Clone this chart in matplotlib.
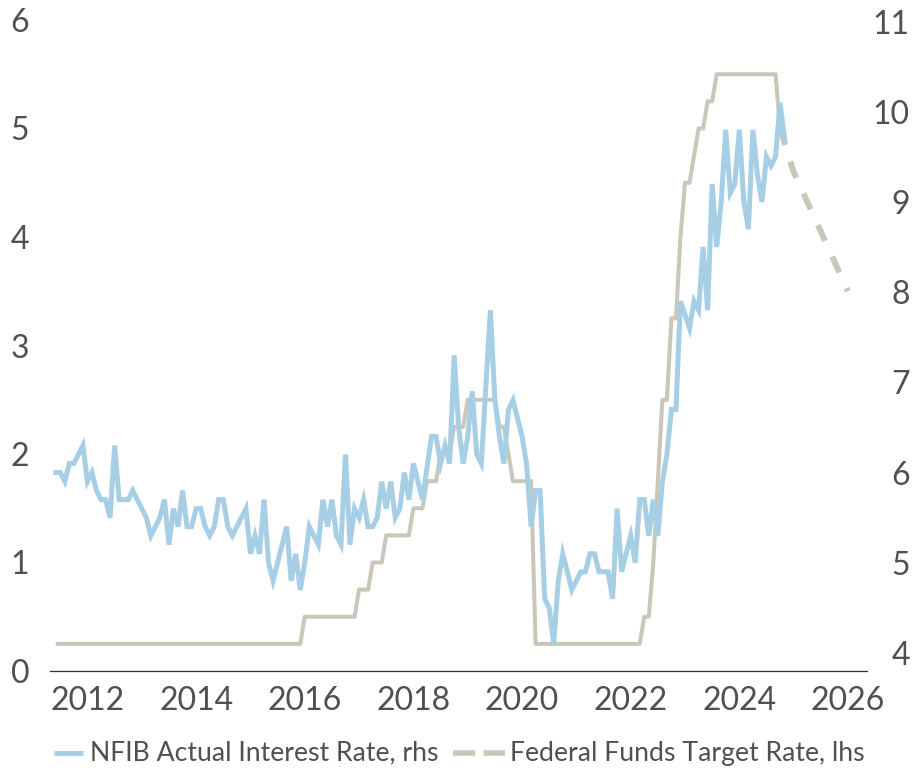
import numpy as np
import pandas as pd
import matplotlib
matplotlib.use("Agg")
import matplotlib.pyplot as plt
from matplotlib.lines import Line2D

plt.rcParams['font.family'] = ['Lato', 'DejaVu Sans']

# NFIB actual interest rate paid on short-term loans (rhs), monthly from Jun 2011
nfib = [6.0, 6.0, 5.9, 6.1, 6.1, 6.2, 6.3,
        5.9, 6.0, 5.8, 5.7, 5.7, 5.5, 6.3, 5.7, 5.7, 5.7, 5.8, 5.7,
        5.6, 5.5, 5.3, 5.4, 5.5, 5.7, 5.2, 5.6, 5.4, 5.8, 5.4, 5.4,
        5.6, 5.6, 5.4, 5.3, 5.4, 5.7, 5.7, 5.4, 5.3, 5.4, 5.5, 5.6,
        5.1, 5.3, 5.1, 5.7, 5.0, 4.8, 5.0, 5.2, 5.4, 4.8, 5.1, 4.7,
        5.0, 5.4, 5.3, 5.2, 5.7, 5.4, 5.7, 5.3, 5.2, 6.2, 5.2, 5.6,
        5.5, 5.7, 5.4, 5.4, 5.5, 5.9, 5.6, 5.9, 5.5, 5.6, 6.0, 5.7,
        6.1, 5.9, 5.7, 6.05, 6.4, 6.4, 6.1, 6.3, 6.1, 7.3, 6.5, 6.1,
        6.4, 6.9, 6.2, 6.1, 6.95, 7.8, 6.8, 6.4, 6.1, 6.7, 6.8, 6.6,
        6.4, 6.1, 5.4, 5.8, 5.8, 4.6, 4.5, 4.1, 4.8, 5.1, 4.9, 4.7,
        4.8, 4.9, 4.9, 5.1, 5.1, 4.9, 4.9, 4.9, 4.6, 5.6, 4.9, 5.1,
        5.3, 5.0, 5.7, 5.7, 5.3, 5.7, 5.3, 5.9, 6.2, 6.7, 6.7, 7.9,
        7.75, 7.6, 7.9, 7.8, 8.5, 7.8, 9.2, 8.5, 9.0, 9.8, 9.1, 9.2,
        9.8, 9.0, 8.7, 9.8, 9.3, 9.0, 9.5, 9.4, 9.5, 10.1, 9.7]

# Federal funds target rate, upper bound (lhs), monthly from Jun 2011
fed = ([0.25] * 55 + [0.5] * 12 + [0.75] * 3 + [1.0] * 3 + [1.25] * 6
       + [1.5] * 3 + [1.75] * 3 + [2.0] * 3 + [2.25] * 3 + [2.5] * 7
       + [2.25] * 2 + [2.0] + [1.75] * 5 + [0.25] * 24 + [0.5] * 2
       + [1.0] + [1.75] + [2.5] * 2 + [3.25] * 2 + [4.0] + [4.5] * 2
       + [4.75] + [5.0] * 2 + [5.25] * 2 + [5.5] * 14 + [5.0])

# forecast path for the fed funds rate
fc_dates = ['2024-10-01', '2025-01-01', '2026-01-01']
fc_vals = [5.0, 4.6, 3.5]

years = list(range(2012, 2027, 2))


def to_year(d):
    d = pd.to_datetime(d)
    return d.year + (d.month - 1) / 12 + (d.day - 1) / 365


t_nfib = to_year(pd.date_range('2011-06-01', periods=len(nfib), freq='MS'))
t_fed = to_year(pd.date_range('2011-06-01', periods=len(fed), freq='MS'))
t_fc = to_year(pd.DatetimeIndex(fc_dates))

blue = '#a6cfe6'
grey = '#cac7ba'
txt = '#505050'

fig = plt.figure(figsize=(9.17, 7.69), dpi=100)
ax = fig.add_axes([50 / 917, 1 - 671 / 769, 816.7 / 917, 651 / 769])
ax2 = ax.twinx()

ax.plot(t_fed, fed, color=grey, lw=2.9, solid_capstyle='butt')
ax.plot(t_fc, fc_vals, color=grey, lw=4.3, dashes=(2.9, 2.9))
ax2.plot(t_nfib, nfib, color=blue, lw=3.6, solid_joinstyle='miter')

ax.set_xlim(2011.31, 2026.345)
ax.set_ylim(0, 6)
ax2.set_ylim(3.80, 11.017)
ax.set_xticks(years)
ax.set_yticks(range(0, 7))
ax2.set_yticks(range(4, 12))

for s in ['top', 'left', 'right']:
    ax.spines[s].set_visible(False)
ax.spines['bottom'].set_color('#333333')
ax.spines['bottom'].set_linewidth(0.9)
for s in ax2.spines.values():
    s.set_visible(False)

ax.tick_params(axis='x', length=0, pad=11, labelsize=23, labelcolor=txt)
ax.tick_params(axis='y', length=0, pad=15, labelsize=23, labelcolor=txt)
ax2.tick_params(axis='y', length=0, pad=31, labelsize=23, labelcolor=txt)
for lab in ax2.get_yticklabels():
    lab.set_horizontalalignment('right')

# legend drawn by hand, the two keys have different lengths
ly = 1 - 753 / 769
fig.add_artist(Line2D([54 / 917, 83 / 917], [ly, ly], color=blue, lw=3.6,
                      solid_capstyle='butt'))
fig.text(90.5 / 917, ly, 'NFIB Actual Interest Rate, rhs', fontsize=19.2,
         color=txt, va='center', ha='left')
fig.add_artist(Line2D([453 / 917, 505 / 917], [ly, ly], color=grey, lw=4.0,
                      dashes=(4.0, 1.5)))
fig.text(510 / 917, ly, 'Federal Funds Target Rate, lhs', fontsize=19.2,
         color=txt, va='center', ha='left')

fig.savefig('out.png', dpi=100)
